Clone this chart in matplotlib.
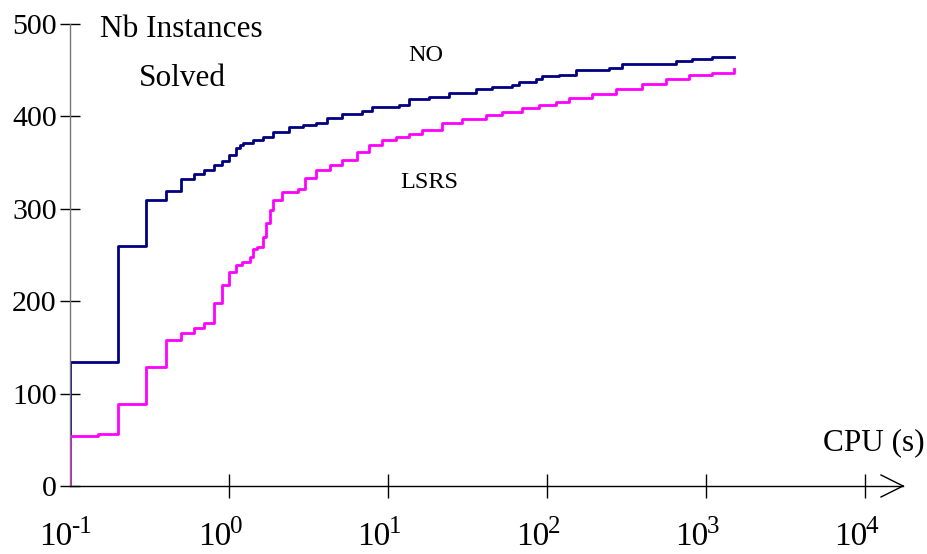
import matplotlib
matplotlib.use("Agg")
import matplotlib.pyplot as plt
from matplotlib.lines import Line2D

plt.rcParams['font.family'] = ['Liberation Serif', 'DejaVu Serif']

# cumulative number of instances solved vs CPU time (s)
no_cpu = [0.1, 0.1, 0.2, 0.3, 0.4, 0.5, 0.6, 0.7, 0.8, 0.9,
          1.0, 1.1, 1.17, 1.22, 1.41, 1.63, 1.88, 2.40, 2.90, 3.55,
          4.11, 5.17, 6.91, 7.98, 11.8, 13.6, 18.2, 24.3, 35.9, 45.2,
          60.4, 66.8, 85.4, 93.1, 119, 152, 245, 296, 646, 815,
          1087, 1493]
no_solved = [0, 134, 260, 310, 319, 332, 338, 342, 347, 352,
             358, 366, 369, 371, 374, 378, 383, 389, 391, 393,
             398, 403, 406, 410, 412, 419, 421, 425, 430, 432,
             434, 437, 440, 444, 445, 450, 452, 457, 460, 462,
             464, 464]

lsrs_cpu = [0.1, 0.1, 0.15, 0.2, 0.3, 0.4, 0.5, 0.6, 0.7, 0.8,
            0.9, 1.0, 1.1, 1.2, 1.35, 1.41, 1.51, 1.63, 1.70, 1.80,
            1.88, 2.17, 2.70, 2.99, 3.55, 4.29, 5.17, 6.34, 7.64, 9.22,
            11.3, 13.6, 16.4, 22.0, 29.3, 41.5, 52.3, 69.8, 89.2, 114,
            138, 192, 272, 395, 559, 780, 1087, 1493]
lsrs_solved = [0, 54, 56, 89, 129, 158, 166, 171, 176, 198,
               218, 232, 239, 242, 248, 256, 259, 270, 285, 299,
               309, 318, 321, 333, 342, 347, 353, 361, 369, 374,
               378, 381, 385, 393, 397, 402, 405, 409, 412, 416,
               420, 424, 430, 435, 440, 445, 447, 451]

x_ticks = [0.1, 1, 10, 100, 1000, 10000]
x_exps = ['-1', '0', '1', '2', '3', '4']
y_ticks = [0, 100, 200, 300, 400, 500]

W, H = 928, 554
fig = plt.figure(figsize=(W / 100, H / 100), dpi=100)
ax = fig.add_axes([70 / W, 68 / H, 833 / W, 462 / H])

ax.step(no_cpu, no_solved, where='post', color='#000080', lw=2.0)
ax.step(lsrs_cpu, lsrs_solved, where='post', color='#ff00ff', lw=2.0)

ax.set_xscale('log')
ax.set_xlim(0.1, 10 ** 4.239)
ax.set_ylim(0, 500)

for s in ['top', 'right']:
    ax.spines[s].set_visible(False)
ax.spines['left'].set_color('#777777')
ax.spines['left'].set_linewidth(1.0)
ax.spines['bottom'].set_linewidth(1.0)

ax.set_xticks(x_ticks)
ax.set_xticklabels([''] * len(x_ticks))
ax.minorticks_off()
ax.set_yticks(y_ticks)
ax.tick_params(axis='x', direction='inout', length=17, width=1)
ax.tick_params(axis='y', direction='inout', length=15, width=1, labelsize=21.5, pad=2)
ax.xaxis.get_major_ticks()[0].tick1line.set_visible(False)

# x tick labels written as 10 with a raised exponent
for t, e in zip(x_ticks, x_exps):
    ax.annotate('10', xy=(t, 0), xycoords=('data', 'axes fraction'),
                xytext=(2, -59), textcoords='offset pixels',
                ha='right', va='baseline', fontsize=24, annotation_clip=False)
    ax.annotate(e, xy=(t, 0), xycoords=('data', 'axes fraction'),
                xytext=(1, -47), textcoords='offset pixels',
                ha='left', va='baseline', fontsize=18, annotation_clip=False)

# open arrow head at the end of the x axis
aw = ax.get_position().width * W
ah = ax.get_position().height * H
for sign in (1, -1):
    ax.add_line(Line2D([1, 1 - 22 / aw], [0, sign * 11 / ah], transform=ax.transAxes,
                       color='black', lw=1.0, clip_on=False))

fig.text(100 / W, 1 - 37 / H, 'Nb Instances', fontsize=22.5, ha='left', va='baseline')
fig.text(139 / W, 1 - 86 / H, 'Solved', fontsize=22.5, ha='left', va='baseline')
fig.text(408 / W, 1 - 61 / H, 'NO', fontsize=17.5, ha='left', va='baseline')
fig.text(400 / W, 1 - 188 / H, 'LSRS', fontsize=17.5, ha='left', va='baseline')
fig.text(823 / W, 1 - 450 / H, 'CPU (s)', fontsize=22.5, ha='left', va='baseline')

fig.savefig('out.png', dpi=100)
